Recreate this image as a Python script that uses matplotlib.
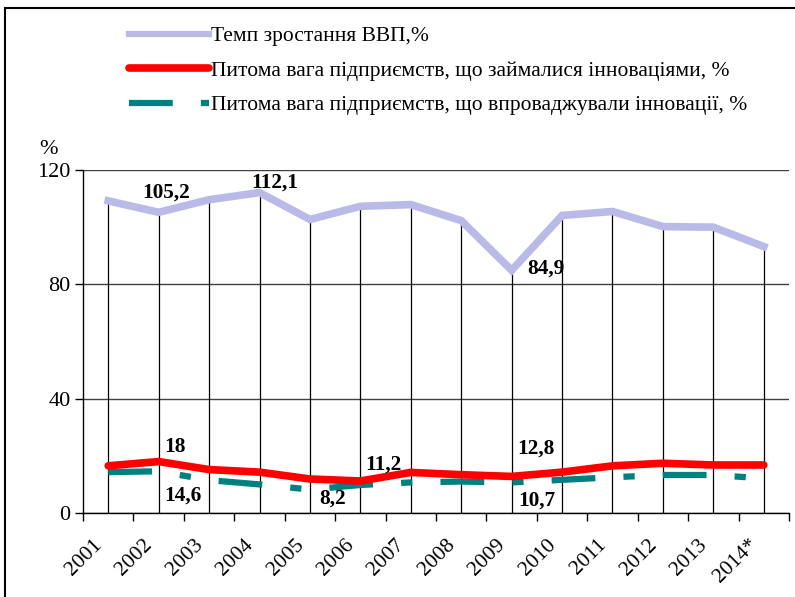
import matplotlib.pyplot as plt
import matplotlib.transforms as mtransforms
from matplotlib.lines import Line2D
from matplotlib.patches import Rectangle
import numpy as np

plt.rcParams["font.family"] = ["Liberation Serif", "DejaVu Serif"]

years = ["2001", "2002", "2003", "2004", "2005", "2006", "2007",
         "2008", "2009", "2010", "2011", "2012", "2013", "2014*"]
gdp_growth = [109.2, 105.2, 109.6, 112.1, 102.7, 107.3, 107.9,
              102.3, 84.9, 104.1, 105.5, 100.2, 100.0, 93.2]
innov_active = [16.5, 18.0, 15.2, 14.3, 11.9, 11.2, 14.2,
                13.4, 12.8, 14.3, 16.5, 17.4, 16.8, 16.8]
innov_impl = [14.3, 14.6, 11.5, 10.0, 8.2, 9.8, 10.7,
              11.0, 10.7, 11.6, 12.5, 13.3, 13.3, 12.1]

label_gdp = "Темп зростання ВВП,%"
label_active = "Питома вага підприємств, що займалися інноваціями, %"
label_impl = "Питома вага підприємств, що впроваджували інновації, %"

gdp_color = "#babae8"
red = "#ff0000"
teal = "#008080"
teal_dash = (0, (7, 4.5, 1.8, 4.5))

fig = plt.figure(figsize=(7.95, 5.97), dpi=100)
ax = fig.add_axes([83 / 795, 1 - 513 / 597, 706 / 795, 343 / 597])

x = np.arange(len(years))

# drop lines from top series to axis
ax.vlines(x, 0, gdp_growth, color="black", lw=0.9, zorder=2)

ax.plot(x, gdp_growth, color=gdp_color, lw=5.5, solid_joinstyle="miter", zorder=3)
ax.plot(x, innov_active, color=red, lw=5.5, solid_capstyle="round", zorder=4)
ax.plot(x, innov_impl, color=teal, lw=4.5, dash_capstyle="butt",
        linestyle=teal_dash, zorder=3)

ax.set_xlim(-0.5, len(years) - 0.5)
ax.set_ylim(0, 120)
ax.set_yticks([0, 40, 80, 120])
ax.yaxis.grid(True, color="#404040", lw=1.0)
ax.set_axisbelow(True)

for s in ["top", "right"]:
    ax.spines[s].set_visible(False)
for s in ["left", "bottom"]:
    ax.spines[s].set_color("black")
    ax.spines[s].set_linewidth(1.0)

ax.set_xticks(x)
ax.set_xticklabels(years, rotation=45, ha="right", va="center",
                   rotation_mode="anchor", fontsize=15.5)
ax.tick_params(axis="x", which="major", length=0, pad=21)
shift = mtransforms.ScaledTranslation(-9 / 100, 0, fig.dpi_scale_trans)
for lbl in ax.get_xticklabels():
    lbl.set_transform(lbl.get_transform() + shift)
ax.set_xticks(np.arange(-0.5, len(years)), minor=True)
ax.tick_params(axis="x", which="minor", length=6, width=1.0, direction="out")
ax.tick_params(axis="y", length=6, width=1.0, labelsize=16, pad=3)

# data labels
labels = [
    (1, gdp_growth[1], "105,2", 7, 20),
    (3, gdp_growth[3], "112,1", 15, 10),
    (8, gdp_growth[8], "84,9", 34, 2),
    (1, innov_active[1], "18", 16, 15),
    (1, innov_impl[1], "14,6", 24, -24),
    (4, innov_impl[4], "8,2", 23, -9),
    (5, innov_active[5], "11,2", 23, 16),
    (8, innov_active[8], "12,8", 24, 28),
    (8, innov_impl[8], "10,7", 25, -18),
]
for xi, yi, txt, dx, dy in labels:
    ax.annotate(txt, (xi, yi), xytext=(dx, dy), textcoords="offset pixels",
                ha="center", va="center", fontsize=15.3, fontweight="bold", zorder=6)

fig.text(49 / 795, 1 - 150 / 597, "%", ha="center", va="center", fontsize=16)

handles = [
    Line2D([], [], color=gdp_color, lw=4.5),
    Line2D([], [], color=red, lw=5.5, solid_capstyle="round"),
    Line2D([], [], color=teal, lw=4.5, linestyle=teal_dash),
]
ax.legend(handles, [label_gdp, label_active, label_impl],
          loc="upper left", bbox_to_anchor=(129 / 795, 1 - 26 / 597),
          bbox_transform=fig.transFigure, frameon=False, fontsize=15.5,
          handlelength=3.7, handletextpad=0.1, labelspacing=0.68,
          borderpad=0, borderaxespad=0)

# outer frame
fig.patches.append(Rectangle((5 / 795, -0.1), 1.2, 1.1 - 8 / 597,
                             transform=fig.transFigure, fill=False,
                             edgecolor="black", lw=1.5))

fig.savefig("out.png", dpi=100)
